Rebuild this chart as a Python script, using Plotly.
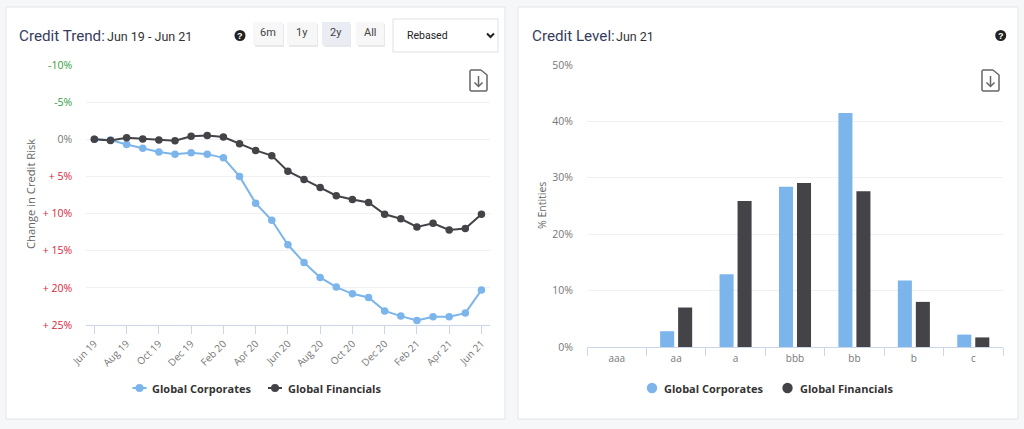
import plotly.graph_objects as go

months = ["Jun 19","Jul 19","Aug 19","Sep 19","Oct 19","Nov 19","Dec 19","Jan 20","Feb 20","Mar 20","Apr 20","May 20",
          "Jun 20","Jul 20","Aug 20","Sep 20","Oct 20","Nov 20","Dec 20","Jan 21","Feb 21","Mar 21","Apr 21","May 21","Jun 21"]
trend_corporates = [0,0.1,0.7,1.2,1.7,2.0,1.8,2.0,2.5,5.0,8.6,10.9,14.2,16.6,18.6,19.9,20.8,21.3,23.1,23.8,24.4,23.9,23.9,23.4,20.3]
trend_financials = [0,0.15,-0.2,-0.05,0.1,0.2,-0.4,-0.5,-0.3,0.6,1.5,2.2,4.3,5.4,6.5,7.6,8.1,8.5,10.1,10.7,11.8,11.3,12.2,12.0,10.1]
trend_ticks = [-10,-5,0,5,10,15,20,25]
trend_labels = ["-10%","-5%","0%","+ 5%","+ 10%","+ 15%","+ 20%","+ 25%"]
grades = ["aaa","aa","a","bbb","bb","b","c"]
level_corporates = [0,2.8,12.9,28.4,41.5,11.8,2.2]
level_financials = [0,7.0,25.9,29.1,27.6,8.0,1.7]
level_ticks = [0,10,20,30,40,50]
level_labels = ["0%","10%","20%","30%","40%","50%"]
series_names = ["Global Corporates", "Global Financials"]

W, H = 1024, 429
BLUE, DARK = "#7cb5ec", "#434348"
FONT = "Open Sans"
X = lambda p: p / W
Y = lambda p: 1 - p / H

def tick_color(v):
    return "#2e9e3a" if v < 0 else ("#d9263a" if v > 0 else "#777777")

fig = go.Figure()
fig.add_trace(go.Scatter(x=months, y=trend_corporates, name=series_names[0], mode="lines+markers",
                         line=dict(color=BLUE, width=2), marker=dict(size=7.5, color=BLUE), xaxis="x", yaxis="y"))
fig.add_trace(go.Scatter(x=months, y=trend_financials, name=series_names[1], mode="lines+markers",
                         line=dict(color=DARK, width=2), marker=dict(size=7.5, color=DARK), xaxis="x", yaxis="y"))
fig.add_trace(go.Bar(x=grades, y=level_corporates, name=series_names[0], marker=dict(color=BLUE, line=dict(width=0)),
                     xaxis="x2", yaxis="y2"))
fig.add_trace(go.Bar(x=grades, y=level_financials, name=series_names[1], marker=dict(color=DARK, line=dict(width=0)),
                     xaxis="x2", yaxis="y2"))

shapes, annotations = [], []

def rect(x0, y0, x1, y1, fill, line="rgba(0,0,0,0)", layer="below"):
    shapes.append(dict(type="rect", xref="paper", yref="paper", x0=X(x0), x1=X(x1), y0=Y(y0), y1=Y(y1),
                       fillcolor=fill, line=dict(color=line, width=1), layer=layer))

def text(x, y, s, size, color, anchor="left", angle=0, family=FONT):
    annotations.append(dict(xref="paper", yref="paper", x=X(x), y=Y(y), text=s, showarrow=False, xanchor=anchor,
                            yanchor="middle", textangle=angle, font=dict(size=size, color=color, family=family),
                            borderpad=0))

def path(points, color, width=1.5, fill=None):
    d = "M" + " L".join(f"{X(a):.5f},{Y(b):.5f}" for a, b in points)
    if fill:
        d += " Z"
    shapes.append(dict(type="path", xref="paper", yref="paper", path=d, line=dict(color=color, width=width),
                       fillcolor=fill, layer="above"))

def dot(cx, cy, r, color):
    shapes.append(dict(type="circle", xref="paper", yref="paper", x0=X(cx-r), x1=X(cx+r), y0=Y(cy+r), y1=Y(cy-r),
                       fillcolor=color, line=dict(width=0), layer="above"))

def help_icon(cx, cy):
    dot(cx, cy, 5.5, "#222222")
    text(cx, cy, "<b>?</b>", 9, "#ffffff", "center", family="Liberation Sans")

def file_icon(x0, y0):
    c = "#666666"
    path([(x0+11, y0), (x0+1, y0), (x0, y0+1), (x0, y0+20), (x0+1, y0+21), (x0+16, y0+21), (x0+17, y0+20), (x0+17, y0+5), (x0+11, y0)], c)
    path([(x0+8.5, y0+6), (x0+8.5, y0+16)], c)
    path([(x0+4.5, y0+12.5), (x0+8.5, y0+16.5), (x0+12.5, y0+12.5)], c)

def legend_item(swatch_x, text_x, label, color, with_line):
    if with_line:
        path([(swatch_x-7, 388), (swatch_x+7, 388)], color, 2)
        dot(swatch_x, 388, 4, color)
    else:
        dot(swatch_x, 388, 5.2, color)
    annotations.append(dict(xref="paper", yref="paper", x=X(text_x), y=Y(388), text=f"<b>{label}</b>", showarrow=False,
                            xanchor="left", yanchor="middle", font=dict(size=11, color="#333333", family=FONT)))

# cards
for x0, x1 in ((6, 505), (518, 1018)):
    rect(x0, 7, x1, 419, "#ffffff", "#e3e5e8")

# left header
text(18, 35.5, "Credit Trend:", 15.2, "#363c5e", family="Roboto")
text(105.5, 36, "Jun 19 - Jun 21", 12.5, "#333333", family="Roboto")
help_icon(240, 35.5)
for x0, x1, lab, fill in ((253, 283, "6m", "#f7f7f8"), (287, 317, "1y", "#f7f7f8"), (322, 350, "2y", "#e9edf3"), (356, 384, "All", "#f7f7f8")):
    rect(x0+2, 24, x1+1, 47, "#e8e9eb")
    rect(x0, 22, x1, 45, fill)
    text((x0+x1)/2, 33, lab, 11, "#444444", "center", family="Roboto")
rect(393, 19, 498, 52, "#ffffff", "#dfe1e4")
text(406, 35.5, "Rebased", 10.5, "#222222", family="Roboto")
path([(487, 33.5), (490.5, 37), (494, 33.5)], "#222222", 2)
file_icon(470, 70)

# right header
text(530.5, 35.5, "Credit Level:", 15.2, "#363c5e", family="Roboto")
text(615, 36, "Jun 21", 12.5, "#333333", family="Roboto")
help_icon(1000.7, 35.5)
file_icon(982, 70)

# axis titles
text(30.5, 194.5, "Change in Credit Risk", 11.2, "#666666", "center", -90)
text(542, 206, "% Entities", 10.5, "#666666", "center", -90)

# legends
legend_item(139.5, 150, series_names[0], BLUE, True)
legend_item(275, 286, series_names[1], DARK, True)
legend_item(652, 662, series_names[0], BLUE, False)
legend_item(787.5, 798, series_names[1], DARK, False)

grid = "#eef0f3"
axis_line = "#ccd6eb"
fig.update_layout(
    width=W, height=H, margin=dict(l=0, r=0, t=0, b=0, autoexpand=False), paper_bgcolor="#f6f7f8", plot_bgcolor="rgba(0,0,0,0)",
    font=dict(family=FONT, color="#666666"), shapes=shapes, annotations=annotations, showlegend=False,
    bargap=0.394, bargroupgap=0.22, barmode="group", hovermode="closest",
    xaxis=dict(domain=[X(86.3), X(489.5)], anchor="y", type="category", range=[-0.5, 24.5], tickmode="linear", tick0=0, dtick=2,
               tickangle=-45, ticks="outside", ticklen=8, tickcolor=axis_line, showgrid=False, showline=True, linecolor=axis_line,
               tickfont=dict(size=10, color="#777777")),
    yaxis=dict(domain=[Y(325), Y(65)], anchor="x", range=[25, -10], tickmode="array", tickvals=trend_ticks,
               ticktext=[f'<span style="color:{tick_color(v)}">{t}</span>' for v, t in zip(trend_ticks, trend_labels)],
               ticks="outside", ticklen=11, tickcolor="rgba(0,0,0,0)", gridcolor=grid, gridwidth=1, zeroline=False,
               tickfont=dict(size=10.5)),
    xaxis2=dict(domain=[X(587), X(1003)], anchor="y2", type="category", categoryorder="array", categoryarray=grades, range=[-0.5, 6.5],
                ticks="outside", tickson="boundaries", ticklen=8, ticklabelstandoff=2, tickcolor=axis_line, showgrid=False,
                showline=True, linecolor=axis_line, tickfont=dict(size=10, color="#777777")),
    yaxis2=dict(domain=[Y(347), Y(65)], anchor="x2", range=[0, 50], tickmode="array", tickvals=level_ticks, ticktext=level_labels,
                ticks="outside", ticklen=11, tickcolor="rgba(0,0,0,0)", gridcolor=grid, gridwidth=1, zeroline=False,
                tickfont=dict(size=10.5, color="#777777")),
)

fig.write_html("out.html", config=dict(displayModeBar=False),
               post_script="document.body.style.margin='0';document.documentElement.style.overflow='hidden';")
